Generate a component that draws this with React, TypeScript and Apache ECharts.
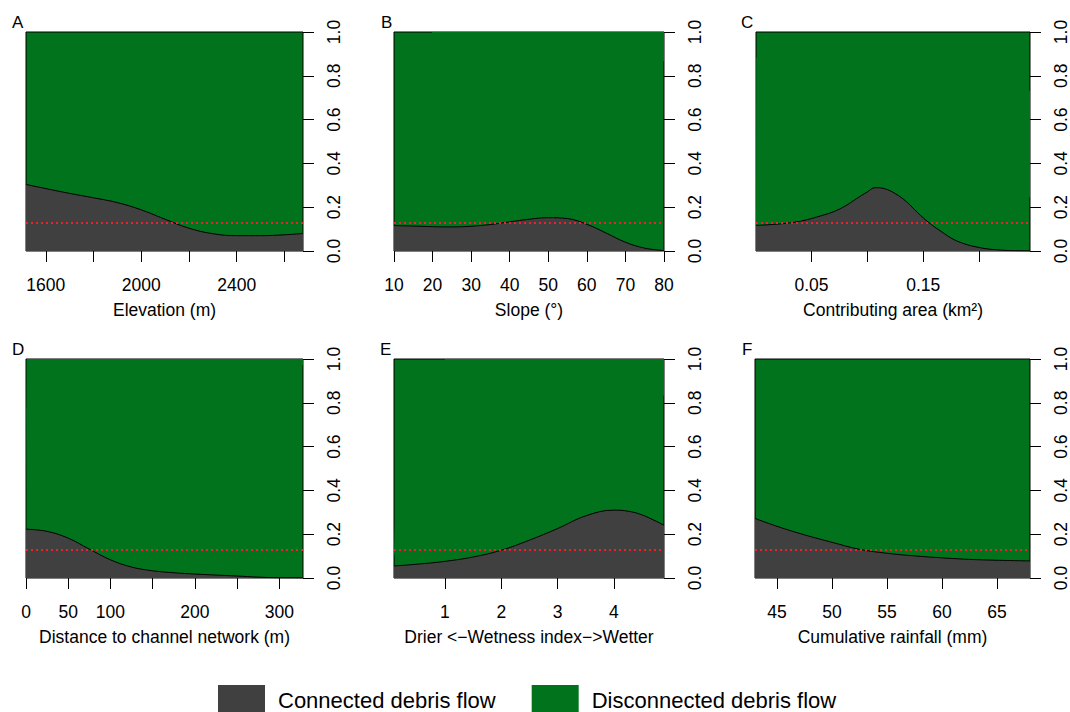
import React, { useEffect, useRef } from "react";
import * as echarts from "echarts";

// ---- data ----
const PREVALENCE = 0.13;

// A: Elevation
const elevX = [1517, 1600, 1700, 1800, 1900, 2000, 2100, 2200, 2300, 2400, 2500, 2600, 2678];
const elevP = [0.304, 0.285, 0.263, 0.243, 0.221, 0.188, 0.145, 0.104, 0.079, 0.07, 0.07, 0.074, 0.08];
const elevTicks = [1600, 1800, 2000, 2200, 2400, 2600];
const elevLabels = [1600, 2000, 2400];

// B: Slope
const slopeX = [10, 15, 20, 25, 30, 35, 40, 45, 50, 55, 60, 65, 70, 75, 80];
const slopeP = [0.116, 0.114, 0.111, 0.11, 0.113, 0.121, 0.133, 0.145, 0.152, 0.148, 0.122, 0.082, 0.04, 0.013, 0.002];
const slopeTicks = [10, 20, 30, 40, 50, 60, 70, 80];
const slopeLabels = [10, 20, 30, 40, 50, 60, 70, 80];

// C: Contributing area
const areaX = [0.0003, 0.02, 0.04, 0.06, 0.07, 0.08, 0.09, 0.1, 0.107, 0.115, 0.125, 0.135, 0.145, 0.155, 0.165, 0.18, 0.2, 0.22, 0.2456];
const areaP = [0.117, 0.123, 0.136, 0.163, 0.18, 0.205, 0.238, 0.27, 0.289, 0.285, 0.262, 0.225, 0.175, 0.13, 0.093, 0.046, 0.016, 0.004, 0.0];
const areaTicks = [0.05, 0.1, 0.15, 0.2];
const areaLabels = [0.05, 0.15];

// D: Distance to channel network
const distX = [0, 25, 50, 75, 100, 125, 150, 175, 200, 250, 275, 300, 328];
const distP = [0.223, 0.213, 0.182, 0.132, 0.083, 0.05, 0.033, 0.024, 0.018, 0.009, 0.004, 0.001, 0.0];
const distTicks = [0, 50, 100, 150, 200, 250, 300];
const distLabels = [0, 50, 100, 200, 300];

// E: Wetness index
const wetX = [0.095, 0.5, 1, 1.5, 2, 2.5, 3, 3.5, 4, 4.25, 4.5, 4.888];
const wetP = [0.055, 0.063, 0.076, 0.096, 0.127, 0.173, 0.226, 0.284, 0.31, 0.305, 0.288, 0.241];
const wetTicks = [1, 2, 3, 4];
const wetLabels = [1, 2, 3, 4];

// F: Cumulative rainfall
const rainX = [43, 45, 47.5, 50, 52.5, 55, 57.5, 60, 62.5, 65, 68];
const rainP = [0.272, 0.236, 0.197, 0.163, 0.131, 0.113, 0.101, 0.092, 0.085, 0.081, 0.078];
const rainTicks = [45, 50, 55, 60, 65];
const rainLabels = [45, 50, 55, 60, 65];

const panelLetters = ["A", "B", "C", "D", "E", "F"];
const axisTitles = [
  "Elevation (m)",
  "Slope (°)",
  "Contributing area (km²)",
  "Distance to channel network (m)",
  "Drier <−Wetness index−>Wetter",
  "Cumulative rainfall (mm)",
];
const seriesNames = ["Connected debris flow", "Disconnected debris flow"];

const panels = [
  { x: elevX, p: elevP, ticks: elevTicks, labels: elevLabels, min: 1517, max: 2678 },
  { x: slopeX, p: slopeP, ticks: slopeTicks, labels: slopeLabels, min: 10, max: 80 },
  { x: areaX, p: areaP, ticks: areaTicks, labels: areaLabels, min: 0.0003, max: 0.2456 },
  { x: distX, p: distP, ticks: distTicks, labels: distLabels, min: 0, max: 328 },
  { x: wetX, p: wetP, ticks: wetTicks, labels: wetLabels, min: 0.095, max: 4.888 },
  { x: rainX, p: rainP, ticks: rainTicks, labels: rainLabels, min: 43, max: 68 },
];

// ---- layout / style ----
const FONT = "'Liberation Sans', Arial, Helvetica, sans-serif";
const DARK = "#404040";
const GREEN = "#02731d";
const RED = "#e8232e";
const gridBoxes = [
  { left: 26, top: 32, width: 277, height: 219 },
  { left: 394, top: 32, width: 270, height: 219 },
  { left: 756, top: 32, width: 276, height: 219 },
  { left: 26, top: 359, width: 277, height: 219 },
  { left: 394, top: 359, width: 270, height: 219 },
  { left: 755, top: 359, width: 277, height: 219 },
];
const letterPos = [
  { left: 12, top: 14 },
  { left: 381, top: 14 },
  { left: 741, top: 14 },
  { left: 12, top: 341 },
  { left: 380, top: 341 },
  { left: 742, top: 341 },
];

function fmt(v: number): string {
  return String(Math.round(v * 1000) / 1000);
}

export default function App() {
  const ref = useRef<HTMLDivElement>(null);

  useEffect(() => {
    if (!ref.current) return;
    const chart = echarts.init(ref.current, undefined, { renderer: "svg" });

    const grid = gridBoxes.map((g) => ({
      ...g,
      show: true,
      backgroundColor: GREEN,
      borderColor: "#000",
      borderWidth: 1,
      containLabel: false,
    }));

    const xAxis = panels.map((pn, i) => ({
      type: "value",
      gridIndex: i,
      min: pn.min,
      max: pn.max,
      position: "bottom",
      name: axisTitles[i],
      nameLocation: "middle",
      nameGap: 50,
      nameTextStyle: { fontSize: 17.5, color: "#000", fontFamily: FONT },
      axisLine: { show: false, onZero: false },
      axisTick: {
        show: true,
        length: 11,
        inside: false,
        customValues: pn.ticks,
        lineStyle: { color: "#000", width: 1 },
      },
      axisLabel: {
        show: true,
        margin: 25,
        fontSize: 17.5,
        color: "#000",
        fontFamily: FONT,
        customValues: pn.labels,
        formatter: (v: number) => fmt(v),
      },
      splitLine: { show: false },
    }));

    const yAxis = panels.map((_pn, i) => ({
      type: "value",
      gridIndex: i,
      min: 0,
      max: 1,
      interval: 0.2,
      position: "right",
      axisLine: { show: false, onZero: false },
      axisTick: { show: true, length: 11, lineStyle: { color: "#000", width: 1 } },
      axisLabel: {
        show: true,
        rotate: 90,
        margin: 22,
        fontSize: 17.5,
        color: "#000",
        fontFamily: FONT,
        formatter: (v: number) => v.toFixed(1),
      },
      splitLine: { show: false },
    }));

    const series: any[] = [];
    panels.forEach((pn, i) => {
      series.push({
        name: seriesNames[0],
        type: "line",
        xAxisIndex: i,
        yAxisIndex: i,
        stack: "s" + i,
        smooth: 0.4,
        showSymbol: false,
        symbol: "none",
        color: DARK,
        z: 3,
        lineStyle: { color: "#000", width: 1 },
        areaStyle: { color: DARK, opacity: 1 },
        data: pn.x.map((x, k) => [x, pn.p[k]]),
        markLine: {
          silent: true,
          symbol: ["none", "none"],
          label: { show: false },
          lineStyle: { color: RED, type: [2, 3], width: 2 },
          data: [{ yAxis: PREVALENCE }],
          z: 5,
        },
      });
      series.push({
        name: seriesNames[1],
        type: "line",
        xAxisIndex: i,
        yAxisIndex: i,
        stack: "s" + i,
        smooth: 0.4,
        showSymbol: false,
        symbol: "none",
        color: GREEN,
        z: 2,
        lineStyle: { width: 0, color: GREEN, opacity: 0 },
        areaStyle: { color: GREEN, opacity: 1 },
        data: pn.x.map((x, k) => [x, 1 - pn.p[k]]),
      });
    });

    const option: any = {
      animation: false,
      backgroundColor: "#fff",
      textStyle: { fontFamily: FONT, color: "#000" },
      title: panelLetters.map((t, i) => ({
        text: t,
        left: letterPos[i].left,
        top: letterPos[i].top,
        padding: 0,
        textStyle: { fontSize: 17, fontWeight: "normal", color: "#000", fontFamily: FONT },
      })),
      legend: {
        left: 218,
        top: 685,
        itemWidth: 47,
        itemHeight: 30,
        itemGap: 36,
        padding: 0,
        selectedMode: false,
        textStyle: { fontSize: 22, color: "#000", fontFamily: FONT, padding: [0, 0, 0, 8] },
        data: [
          { name: seriesNames[0], icon: "rect", itemStyle: { color: DARK, borderWidth: 0 } },
          { name: seriesNames[1], icon: "rect", itemStyle: { color: GREEN, borderWidth: 0 } },
        ],
      },
      grid,
      xAxis,
      yAxis,
      series,
    };

    chart.setOption(option);
    return () => chart.dispose();
  }, []);

  return (
    <div
      ref={ref}
      style={{ position: "absolute", left: 0, top: 0, width: 1070, height: 712 }}
    />
  );
}
